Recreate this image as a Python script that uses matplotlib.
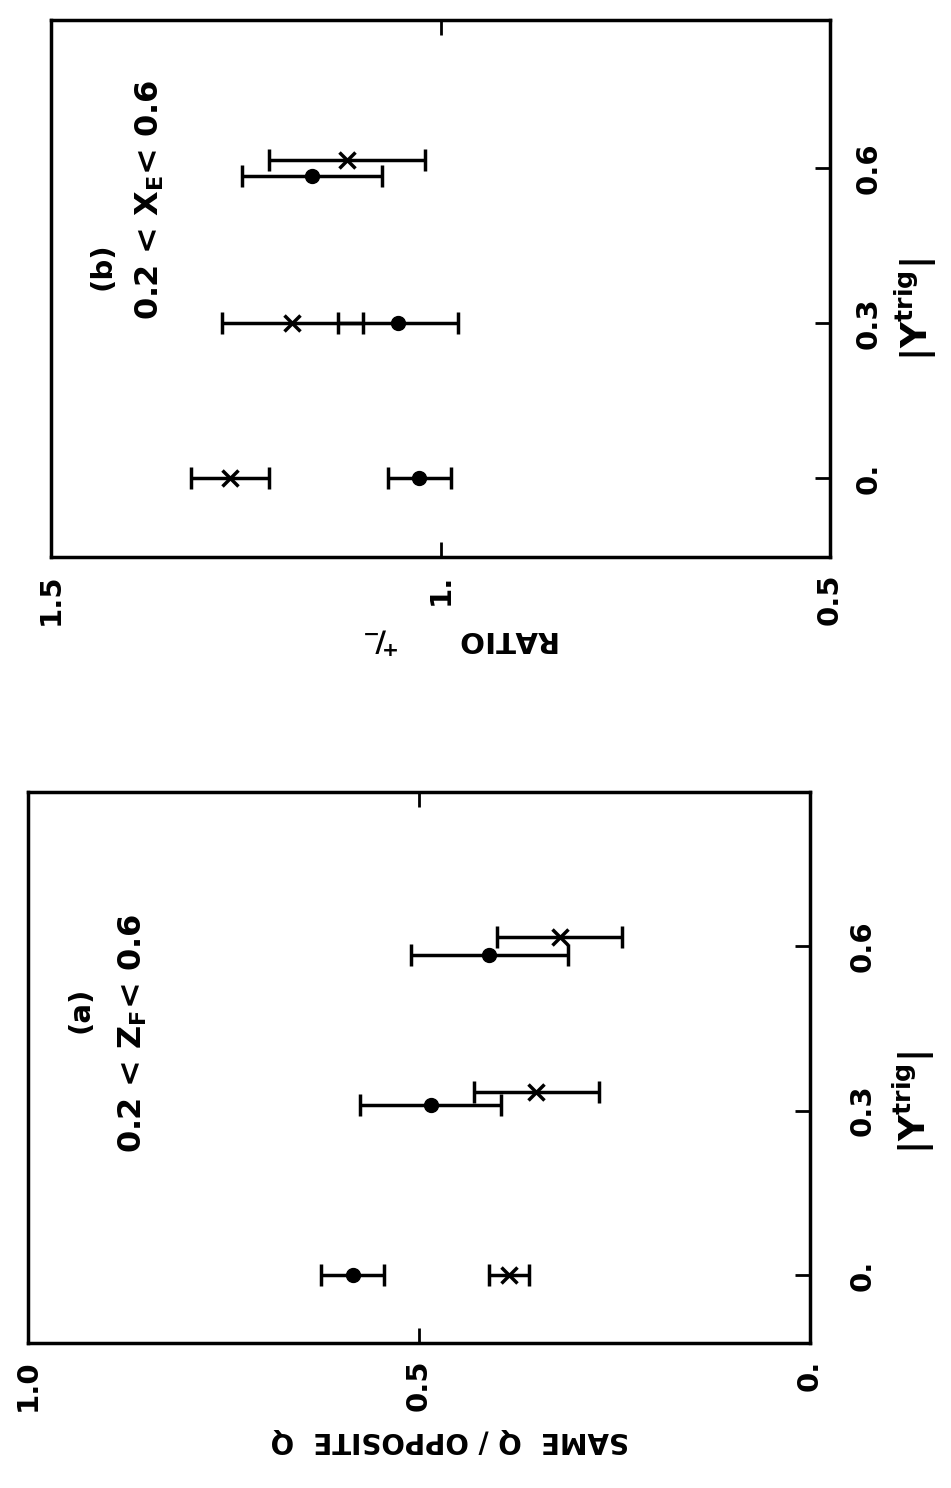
import matplotlib
matplotlib.use("Agg")
import matplotlib.pyplot as plt

# whole page is drawn turned on its side: value axis runs right-to-left,
# |Y trig| runs upward, labels rotated like the scanned figure

plt.rcParams['font.family'] = ['DejaVu Sans']
plt.rcParams['font.weight'] = 'bold'
plt.rcParams['mathtext.fontset'] = 'custom'
plt.rcParams['mathtext.rm'] = 'DejaVu Sans:bold'
plt.rcParams['mathtext.it'] = 'DejaVu Sans:bold'
plt.rcParams['mathtext.bf'] = 'DejaVu Sans:bold'

# panel (a): SAME Q / OPPOSITE Q, 0.2 < Z_F < 0.6
a_dot_y = [0.0, 0.31, 0.584]
a_dot_val = [0.585, 0.485, 0.41]
a_dot_err = [0.04, 0.09, 0.10]
a_x_y = [0.0, 0.334, 0.617]
a_x_val = [0.385, 0.35, 0.32]
a_x_err = [0.026, 0.08, 0.08]

# panel (b): RATIO +/-, 0.2 < X_E < 0.6
b_dot_y = [0.0, 0.30, 0.584]
b_dot_val = [1.027, 1.055, 1.165]
b_dot_err = [0.04, 0.077, 0.09]
b_x_y = [0.0, 0.30, 0.615]
b_x_val = [1.27, 1.19, 1.12]
b_x_err = [0.05, 0.09, 0.10]

a_val_ticks = [1.0, 0.5, 0.0]
a_val_labels = ["1.0", "0.5", "0."]
b_val_ticks = [1.5, 1.0, 0.5]
b_val_labels = ["1.5", "1.", "0.5"]
y_ticks = [0.0, 0.3, 0.6]
y_labels = ["0.", "0.3", "0.6"]

W, H = 951, 1488
fig = plt.figure(figsize=(W / 100, H / 100), dpi=100)


def box(left, top, right, bottom):
    return [left / W, 1 - bottom / H, (right - left) / W, (bottom - top) / H]


def panel(ax, dots, crosses, vlim, ylim, vticks, vlabels, ypad):
    dy, dv, de = dots
    cy, cv, ce = crosses
    ax.errorbar(dv, dy, xerr=de, fmt='o', color='black', ms=10,
                elinewidth=2.5, capsize=8, capthick=2.5)
    ax.errorbar(cv, cy, xerr=ce, fmt='x', color='black', ms=12, mew=2.5,
                elinewidth=2.5, capsize=8, capthick=2.5)
    ax.set_xlim(*vlim)
    ax.set_ylim(*ylim)
    ax.set_xticks(vticks)
    ax.set_xticklabels(vlabels, rotation=90, fontsize=21, fontweight='bold')
    ax.set_yticks(y_ticks)
    ax.set_yticklabels(y_labels, rotation=90, fontsize=21, fontweight='bold',
                       va='center')
    ax.yaxis.tick_right()
    ax.tick_params(axis='x', direction='in', top=True, bottom=True,
                   length=11, width=2, pad=12)
    ax.tick_params(axis='y', direction='in', left=False, right=True,
                   length=11, width=2, pad=ypad)
    for s in ax.spines.values():
        s.set_linewidth(2.5)


ax_b = fig.add_axes(box(51, 20, 830, 557))
panel(ax_b, (b_dot_y, b_dot_val, b_dot_err), (b_x_y, b_x_val, b_x_err),
      (1.5, 0.5), (-0.153, 0.886), b_val_ticks, b_val_labels, 18)

ax_a = fig.add_axes(box(28, 792, 810, 1343))
panel(ax_a, (a_dot_y, a_dot_val, a_dot_err), (a_x_y, a_x_val, a_x_err),
      (1.0, 0.0), (-0.124, 0.881), a_val_ticks, a_val_labels, 28)


def ftext(px, py, s, **kw):
    fig.text(px / W, 1 - py / H, s, ha='center', va='center',
             fontweight='bold', **kw)


ftext(103, 266, "(b)", rotation=90, fontsize=21)
ftext(150, 200, r"0.2 < X$_E$< 0.6", rotation=90, fontsize=23)
ftext(80, 1010, "(a)", rotation=90, fontsize=21)
ftext(133, 1033, r"0.2 < Z$_F$< 0.6", rotation=90, fontsize=23)

ftext(916, 310, r"|Y$^{trig}$|", rotation=90, fontsize=26)
ftext(914, 1103, r"|Y$^{trig}$|", rotation=90, fontsize=26)

ftext(450, 1440, "SAME  Q / OPPOSITE  Q", rotation=180, fontsize=20)
ftext(462, 640, r"RATIO      $^{+}\!/\!_{-}$", rotation=180, fontsize=21)

fig.savefig("out.png", dpi=100)
